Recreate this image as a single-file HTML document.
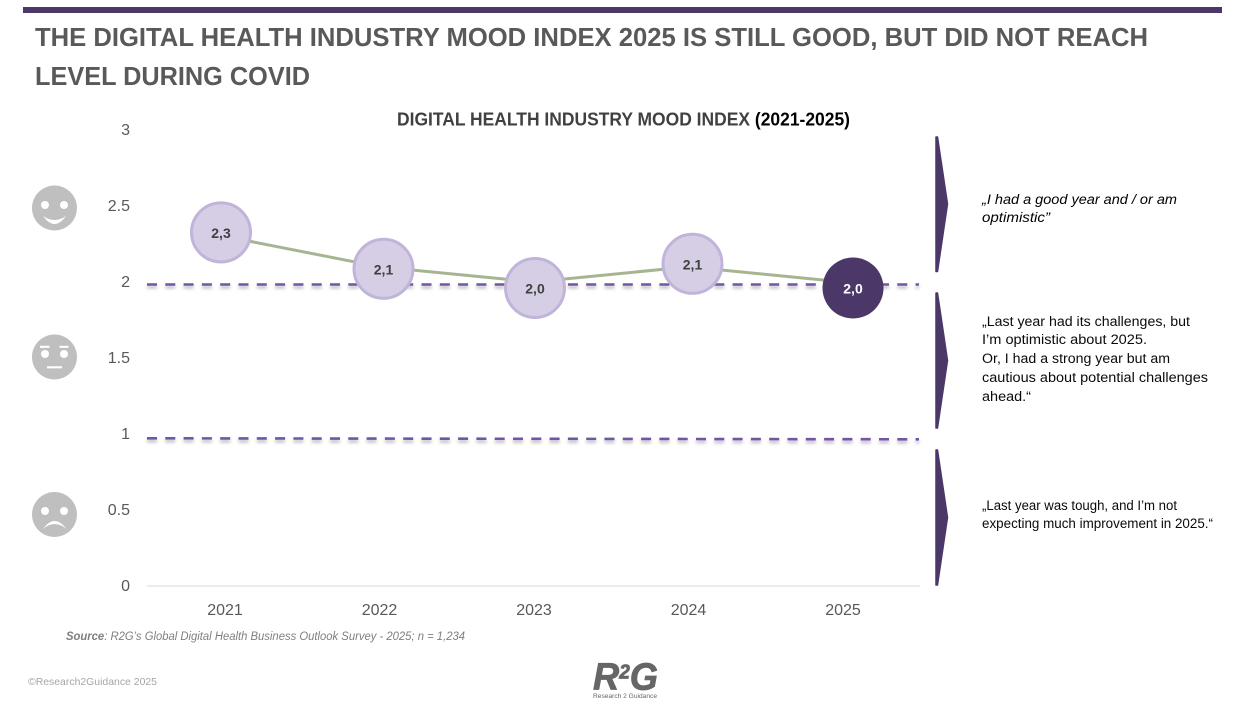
<!DOCTYPE html>
<html lang="en">
<head>
<meta charset="utf-8">
<title>Digital Health Industry Mood Index</title>
<style>
html,body{margin:0;padding:0;background:#fff;width:1250px;height:709px;overflow:hidden}
svg{display:block}
text{font-family:"Liberation Sans",sans-serif}
</style>
</head>
<body>
<svg id="slide" width="1250" height="709" viewBox="0 0 1250 709">
  <defs>
    <filter id="dash-shadow" filterUnits="userSpaceOnUse" x="0" y="0" width="1250" height="709">
      <feDropShadow dx="0" dy="2.6" stdDeviation="1.5" flood-color="#000" flood-opacity="0.3"/>
    </filter>
  </defs>
  <rect x="23" y="7" width="1199" height="6" fill="#4b3869"/>
  <text x="35" y="46" font-size="26" font-weight="700" fill="#595959" textLength="1113" lengthAdjust="spacingAndGlyphs">THE DIGITAL HEALTH INDUSTRY MOOD INDEX 2025 IS STILL GOOD, BUT DID NOT REACH</text>
  <text x="35" y="85" font-size="26" font-weight="700" fill="#595959" textLength="275" lengthAdjust="spacingAndGlyphs">LEVEL DURING COVID</text>
  <text x="397" y="125.5" font-size="18" font-weight="700" fill="#404040" textLength="453" lengthAdjust="spacingAndGlyphs">DIGITAL HEALTH INDUSTRY MOOD INDEX <tspan fill="#000">(2021-2025)</tspan></text>

  <g>
    <circle cx="54.5" cy="208" r="22.5" fill="#bfbfbf"/>
    <circle cx="45" cy="205" r="4" fill="#fff"/>
    <circle cx="64" cy="205" r="4" fill="#fff"/>
    <path d="M43 216 Q54.5 224 66 216 Q54.5 232 43 216Z" fill="#fff"/>
  </g>
  <g>
    <circle cx="54.5" cy="357" r="22.5" fill="#bfbfbf"/>
    <circle cx="45" cy="354" r="4" fill="#fff"/>
    <circle cx="64" cy="354" r="4" fill="#fff"/>
    <path d="M40 346.8H49.5M59.5 346.8H68.5M47 367.3H62" fill="none" stroke="#fff" stroke-width="2.2"/>
  </g>
  <g>
    <circle cx="54.5" cy="514.5" r="22.5" fill="#bfbfbf"/>
    <circle cx="45" cy="511" r="4" fill="#fff"/>
    <circle cx="64" cy="511" r="4" fill="#fff"/>
    <path d="M43 529 Q54.5 513 66.5 529 Q54.5 519 43 529Z" fill="#fff"/>
  </g>

  <g id="chart"></g>

  <path d="M936 137L937.5 137L947.5 204L937.5 271.5L936 271.5Z" fill="#4b3869" stroke="#4b3869" stroke-width="1.5" stroke-linejoin="round"/>
  <path d="M936 293L937.5 293L947.5 360.5L937.5 428L936 428Z" fill="#4b3869" stroke="#4b3869" stroke-width="1.5" stroke-linejoin="round"/>
  <path d="M936 450L937.5 450L947.5 517.5L937.5 585L936 585Z" fill="#4b3869" stroke="#4b3869" stroke-width="1.5" stroke-linejoin="round"/>

  <g font-size="13.5" fill="#000" font-style="italic">
    <text x="982" y="204" textLength="195" lengthAdjust="spacingAndGlyphs">„I had a good year and / or am</text>
    <text x="982" y="222" textLength="68" lengthAdjust="spacingAndGlyphs">optimistic”</text>
  </g>
  <g font-size="13.5" fill="#0a0a0a">
    <text x="982" y="326" textLength="208" lengthAdjust="spacingAndGlyphs">„Last year had its challenges, but</text>
    <text x="982" y="344" textLength="165" lengthAdjust="spacingAndGlyphs">I’m optimistic about 2025.</text>
    <text x="982" y="363" textLength="188" lengthAdjust="spacingAndGlyphs">Or, I had a strong year but am</text>
    <text x="982" y="382" textLength="226" lengthAdjust="spacingAndGlyphs">cautious about potential challenges</text>
    <text x="982" y="401" textLength="49" lengthAdjust="spacingAndGlyphs">ahead.“</text>
  </g>
  <g font-size="13.5" fill="#0a0a0a">
    <text x="982" y="510" textLength="195" lengthAdjust="spacingAndGlyphs">„Last year was tough, and I’m not</text>
    <text x="982" y="528" textLength="231" lengthAdjust="spacingAndGlyphs">expecting much improvement in 2025.“</text>
  </g>

  <text x="66" y="640" font-size="11.5" font-style="italic" fill="#7f7f7f" textLength="399" lengthAdjust="spacingAndGlyphs"><tspan font-weight="700">Source</tspan>:  R2G’s Global Digital Health Business Outlook Survey - 2025; n = 1,234</text>
  <text x="28" y="685" font-size="10.5" fill="#a6a6a6" textLength="129" lengthAdjust="spacingAndGlyphs">©Research2Guidance 2025</text>
  <g>
    <text x="593" y="689.5" font-size="38" font-weight="700" font-style="italic" fill="#666" stroke="#666" stroke-width="0.8" textLength="65" lengthAdjust="spacingAndGlyphs">R<tspan font-size="20" dy="-11">2</tspan><tspan dy="11">G</tspan></text>
    <text x="593" y="698" font-size="6.5" fill="#666" textLength="64" lengthAdjust="spacingAndGlyphs">Research 2 Guidance</text>
  </g>
</svg>

<script>
const categories = ['2021', '2022', '2023', '2024', '2025'];
const moodValues = [2.3, 2.1, 2.0, 2.1, 2.0];
const valueLabels = ['2,3', '2,1', '2,0', '2,1', '2,0'];
const yTickValues = [0, 0.5, 1, 1.5, 2, 2.5, 3];
const yTickLabels = ['0', '0.5', '1', '1.5', '2', '2.5', '3'];
const thresholdLevels = [2, 1];

const NS = 'http://www.w3.org/2000/svg';
const chart = document.getElementById('chart');

function xScale(i) { return 225 + 154.5 * i; }
function yScale(v) { return 586 - 152 * v; }

function make(tag, attrs, text) {
  const el = document.createElementNS(NS, tag);
  for (const k in attrs) el.setAttribute(k, attrs[k]);
  if (text !== undefined) el.textContent = text;
  chart.appendChild(el);
  return el;
}

yTickValues.forEach(function (v, i) {
  const t = make('text', { x: 130, y: yScale(v) + 5, 'text-anchor': 'end', 'font-size': 16, fill: '#595959' }, yTickLabels[i]);
  
  
});

const axisLine = make('line', { x1: 147, x2: 920, y1: yScale(0), y2: yScale(0), stroke: '#d9d9d9', 'stroke-width': 1 });



categories.forEach(function (c, i) {
  const t = make('text', { x: xScale(i), y: 615, 'text-anchor': 'middle', 'font-size': 16, fill: '#595959' }, c);
  
  
});

thresholdLevels.forEach(function (lvl) {
  const nudge = lvl === 2 ? 2.5 : 4.3;
  const d = make('line', { x1: 147, x2: 919, y1: yScale(lvl) + nudge, y2: yScale(lvl) + nudge + (lvl === 1 ? 1 : 0), stroke: '#7154a6', 'stroke-width': 2.6, 'stroke-dasharray': '10 8.3', filter: 'url(#dash-shadow)' });
  
  
});

const linePoints = moodValues.map(function (v, i) { return xScale(i) + ',' + yScale(v); }).join(' ');
const moodLine = make('polyline', { points: linePoints, fill: 'none', stroke: '#a5b592', 'stroke-width': 3 });



/* The reference's bubbles sit slightly off their data points; these are small visual nudges. */
const bubbleNudgeX = [-4, 4, 1, 4, 10];
const bubbleNudgeY = [-4, 2, 6, -3, 6];

moodValues.forEach(function (v, i) {
  const last = i === moodValues.length - 1;
  const cx = xScale(i) + bubbleNudgeX[i];
  const cy = yScale(v) + bubbleNudgeY[i];
  const b = make('circle', {
    cx: cx, cy: cy,
    r: last ? 30.5 : 29.5,
    fill: last ? '#4b3869' : '#d6cee4',
    stroke: last ? 'none' : '#c0b4da',
    'stroke-width': 3
  });
  
  
  const t = make('text', { x: cx, y: cy + 5.5, 'text-anchor': 'middle', 'font-size': 14, 'font-weight': 700, fill: last ? '#fff' : '#404040' }, valueLabels[i]);
  
  
});
</script>
</body>
</html>
